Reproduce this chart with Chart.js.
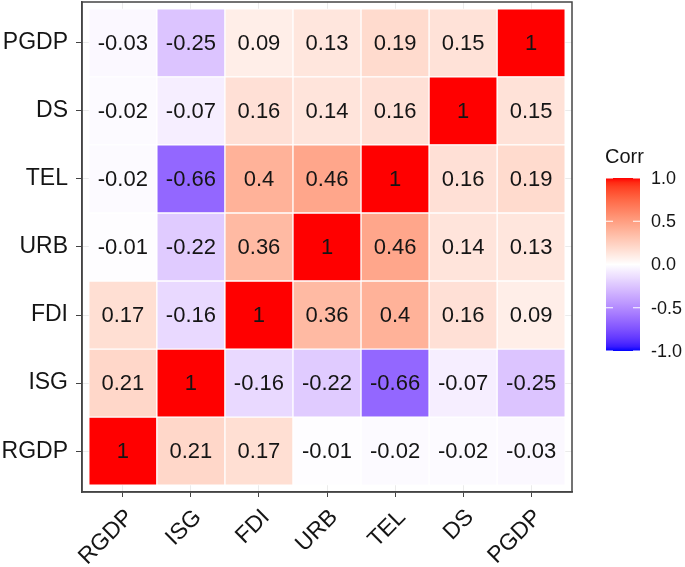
<!DOCTYPE html>
<html><head><meta charset="utf-8">
<script src="https://cdn.jsdelivr.net/npm/chart.js@4"></script>
<style>html,body{margin:0;padding:0;background:#fff}</style>
</head><body>
<canvas id="c" width="685" height="567" style="width:685px;height:567px;display:block"></canvas>
<script>
// ---- data ----
const variables = ['RGDP', 'ISG', 'FDI', 'URB', 'TEL', 'DS', 'PGDP'];
const corrRGDP = [1, 0.21, 0.17, -0.01, -0.02, -0.02, -0.03];
const corrISG  = [0.21, 1, -0.16, -0.22, -0.66, -0.07, -0.25];
const corrFDI  = [0.17, -0.16, 1, 0.36, 0.4, 0.16, 0.09];
const corrURB  = [-0.01, -0.22, 0.36, 1, 0.46, 0.14, 0.13];
const corrTEL  = [-0.02, -0.66, 0.4, 0.46, 1, 0.16, 0.19];
const corrDS   = [-0.02, -0.07, 0.16, 0.14, 0.16, 1, 0.15];
const corrPGDP = [-0.03, -0.25, 0.09, 0.13, 0.19, 0.15, 1];
const legendTitle = 'Corr';
const legendBreaks = [1.0, 0.5, 0.0, -0.5, -1.0];
const legendLabels = ['1.0', '0.5', '0.0', '-0.5', '-1.0'];

const rows = [corrRGDP, corrISG, corrFDI, corrURB, corrTEL, corrDS, corrPGDP];

// ---- colour scale (Lab interpolation: blue - white - red) ----
function toLin(c){c/=255;return c<=0.04045?c/12.92:Math.pow((c+0.055)/1.055,2.4);}
function fromLin(c){const v=c<=0.0031308?12.92*c:1.055*Math.pow(c,1/2.4)-0.055;return Math.round(Math.max(0,Math.min(1,v))*255);}
function rgbToLab(rgb){
  const R=toLin(rgb[0]),G=toLin(rgb[1]),B=toLin(rgb[2]);
  const X=(0.4124564*R+0.3575761*G+0.1804375*B)/0.95047;
  const Y=(0.2126729*R+0.7151522*G+0.0721750*B);
  const Z=(0.0193339*R+0.1191920*G+0.9503041*B)/1.08883;
  const f=t=>t>0.008856?Math.cbrt(t):(7.787*t+16/116);
  const fx=f(X),fy=f(Y),fz=f(Z);
  return [116*fy-16,500*(fx-fy),200*(fy-fz)];
}
function labToRgb(lab){
  const fy=(lab[0]+16)/116, fx=fy+lab[1]/500, fz=fy-lab[2]/200;
  const fi=t=>{const t3=t*t*t;return t3>0.008856?t3:(t-16/116)/7.787;};
  const X=fi(fx)*0.95047, Y=fi(fy), Z=fi(fz)*1.08883;
  const R=3.2404542*X-1.5371385*Y-0.4985314*Z;
  const G=-0.9692660*X+1.8760108*Y+0.0415560*Z;
  const B=0.0556434*X-0.2040259*Y+1.0572252*Z;
  return [fromLin(R),fromLin(G),fromLin(B)];
}
const LAB_W=rgbToLab([255,255,255]), LAB_R=rgbToLab([255,0,0]), LAB_B=rgbToLab([0,0,255]);
function colorFor(v){
  const t=Math.min(1,Math.abs(v)); const end=v>=0?LAB_R:LAB_B;
  const lab=[0,1,2].map(k=>LAB_W[k]+(end[k]-LAB_W[k])*t);
  const c=labToRgb(lab); return `rgb(${c[0]},${c[1]},${c[2]})`;
}

// ---- datasets: one per row ----
const datasets = rows.map((vals, i) => ({
  label: variables[i],
  data: vals.map((v, j) => ({x: j, y: [i - 0.5, i + 0.5], v: v})),
  backgroundColor: vals.map(v => colorFor(v)),
  borderColor: '#ffffff',
  borderWidth: 1,
  borderSkipped: false,
  grouped: false,
  barPercentage: 1,
  categoryPercentage: 1
}));

const FONT = '"Liberation Sans", Arial, sans-serif';

const cellLabels = {
  id: 'cellLabels',
  afterDatasetsDraw(chart){
    const ctx = chart.ctx; ctx.save();
    ctx.font = '22px ' + FONT; ctx.fillStyle = '#151515';
    ctx.textAlign = 'center'; ctx.textBaseline = 'middle';
    chart.data.datasets.forEach((ds, di) => {
      chart.getDatasetMeta(di).data.forEach((el, k) => {
        const p = el.getCenterPoint();
        ctx.fillText(String(ds.data[k].v), p.x, p.y + 1);
      });
    });
    ctx.restore();
  }
};

const panelBorder = {
  id: 'panelBorder',
  afterDraw(chart){
    const {left, top, right, bottom} = chart.chartArea; const ctx = chart.ctx;
    ctx.save(); ctx.strokeStyle = '#444'; ctx.lineWidth = 1.5;
    ctx.strokeRect(left, top, right - left, bottom - top); ctx.restore();
  }
};

const colorBar = {
  id: 'colorBar',
  afterDraw(chart){
    const ctx = chart.ctx; ctx.save();
    const x0 = 606, x1 = 640, yTop = 178, yBot = 351;
    ctx.font = '20px ' + FONT; ctx.fillStyle = '#151515';
    ctx.textAlign = 'left'; ctx.textBaseline = 'middle';
    ctx.fillText(legendTitle, 605, 157);
    const g = ctx.createLinearGradient(0, yTop, 0, yBot);
    for (let s = 0; s <= 40; s++) { const v = 1 - s / 20; g.addColorStop(s / 40, colorFor(v)); }
    ctx.fillStyle = g; ctx.fillRect(x0, yTop, x1 - x0, yBot - yTop);
    ctx.font = '18px ' + FONT; ctx.fillStyle = '#151515';
    ctx.strokeStyle = '#ffffff'; ctx.lineWidth = 1;
    legendBreaks.forEach((b, k) => {
      const y = yTop + (1 - b) / 2 * (yBot - yTop);
      ctx.beginPath(); ctx.moveTo(x0, y); ctx.lineTo(x0 + 7, y);
      ctx.moveTo(x1 - 7, y); ctx.lineTo(x1, y); ctx.stroke();
      ctx.fillText(legendLabels[k], 651, y + 1);
    });
    ctx.restore();
  }
};

new Chart(document.getElementById('c'), {
  type: 'bar',
  data: { datasets },
  options: {
    responsive: false, animation: false,
    layout: { padding: { top: 2, right: 113, left: 0, bottom: 0 } },
    plugins: { legend: { display: false }, tooltip: { enabled: false } },
    scales: {
      x: {
        type: 'linear', min: -0.6, max: 6.6, offset: false,
        afterBuildTicks(s){ s.ticks = variables.map((_, j) => ({value: j})); },
        afterFit(s){ s.height = 75; s.paddingLeft = 0; s.paddingRight = 0; },
        grid: { color: '#ebebeb', offset: false, tickLength: 5, tickColor: '#444', tickWidth: 1 },
        border: { color: '#444', width: 1.5 },
        ticks: { autoSkip: false, maxRotation: 45, minRotation: 45, padding: 7, labelOffset: 7,
          color: '#151515', font: { family: FONT, size: 23 },
          callback: v => variables[v] }
      },
      y: {
        type: 'linear', min: -0.6, max: 6.6, offset: false,
        afterBuildTicks(s){ s.ticks = variables.map((_, j) => ({value: j})); },
        afterFit(s){ s.width = 82; s.paddingTop = 0; s.paddingBottom = 0; },
        grid: { color: '#ebebeb', offset: false, tickLength: 6, tickColor: '#444', tickWidth: 1 },
        border: { color: '#444', width: 1.5 },
        ticks: { autoSkip: false, padding: 8, color: '#151515',
          font: { family: FONT, size: 23 }, callback: v => variables[v] }
      }
    }
  },
  plugins: [cellLabels, panelBorder, colorBar]
});
</script>
</body></html>
